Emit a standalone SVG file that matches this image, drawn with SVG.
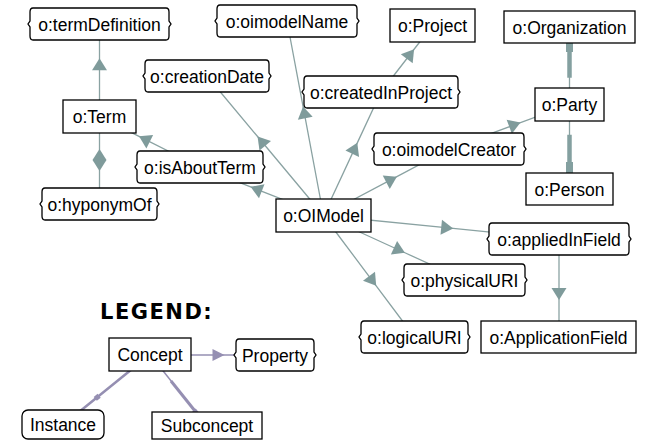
<svg xmlns="http://www.w3.org/2000/svg" width="648" height="441" viewBox="0 0 648 441">
<style>
.c{fill:#fff;stroke:#000;stroke-width:1.3}
.t{font-family:"Liberation Sans",Arial,sans-serif;font-size:17.5px;fill:#000;text-anchor:middle}
.ln{fill:none;stroke:#8aa2a2;stroke-width:1.3}
.sub{fill:none;stroke:#84a0a0}
.lg{fill:none;stroke:#958fb2}
</style>
<defs>
<marker id="arr" markerUnits="userSpaceOnUse" viewBox="-13 -8 14 16" markerWidth="14" markerHeight="16" refX="0" refY="0" orient="auto">
<path d="M0,0 L-12,-7.5 L-12,7.5 Z" fill="#7f9b9b"/>
</marker>
<marker id="dia" markerUnits="userSpaceOnUse" viewBox="-12 -8 24 16" markerWidth="24" markerHeight="16" refX="0" refY="0" orient="auto">
<path d="M-11,0 L0,-7 L11,0 L0,7 Z" fill="#7f9b9b"/>
</marker>
<marker id="larr" markerUnits="userSpaceOnUse" viewBox="-13 -8 14 16" markerWidth="14" markerHeight="16" refX="0" refY="0" orient="auto">
<path d="M0,0 L-12,-6 L-12,6 Z" fill="#958fb2"/>
</marker>
<marker id="sq" markerUnits="userSpaceOnUse" viewBox="-4 -4 8 8" markerWidth="8" markerHeight="8" refX="0" refY="0" orient="auto">
<rect x="-2.5" y="-2.5" width="5" height="5" fill="#958fb2"/>
</marker>
</defs>

<g id="connectors">
<path class="ln" marker-mid="url(#arr)" d="M99.5,116.5 L99.5,58.25 L99.5,24"/>
<path class="ln" marker-mid="url(#dia)" d="M99.5,204 L99.5,160 L99.5,116.5"/>
<path class="ln" marker-mid="url(#arr)" d="M200,167 L139.03,136.36 L99.5,116.5"/>
<path class="ln" marker-mid="url(#arr)" d="M323.5,215.5 L250.58,186.86 L200,167"/>
<path class="ln" marker-mid="url(#arr)" d="M323.5,215.5 L257.56,136.54 L207,76"/>
<path class="ln" marker-mid="url(#arr)" d="M323.5,215.5 L303.04,106.46 L287,21"/>
<path class="ln" marker-mid="url(#arr)" d="M323.5,215.5 L357.31,142.87 L381,92"/>
<path class="ln" marker-mid="url(#arr)" d="M381,92 L414.10,49.26 L432.5,25.5"/>
<path class="ln" marker-mid="url(#arr)" d="M323.5,215.5 L396.85,176.63 L449,149"/>
<path class="ln" marker-mid="url(#arr)" d="M449,149 L520.51,122.59 L569.5,104.5"/>
<path class="ln" marker-mid="url(#arr)" d="M323.5,215.5 L453.19,228.44 L559,239"/>
<path class="ln" marker-mid="url(#arr)" d="M323.5,215.5 L404.91,252.74 L464.5,280"/>
<path class="ln" marker-mid="url(#arr)" d="M323.5,215.5 L376.19,285.85 L414.5,337"/>
<path class="ln" marker-mid="url(#arr)" d="M559,239 L559,300 L559,337"/>
<path class="ln" d="M569.5,27 L569.5,104.5"/>
<path class="sub" stroke-width="4.5" d="M569.5,27 L569.5,77.75"/>
<path class="sub" stroke-width="7" d="M569.5,27 L569.5,52"/>
<path class="ln" d="M569.5,104.5 L569.5,189"/>
<path class="sub" stroke-width="4.5" d="M569.5,189 L569.5,134.75"/>
<path class="sub" stroke-width="7" d="M569.5,189 L569.5,162"/>
<path class="lg" stroke-width="1.5" marker-mid="url(#larr)" d="M150,355 L224.5,355 L275,355"/>
<path class="lg" stroke-width="2.5" marker-mid="url(#sq)" d="M150,354.5 L97.2,397.3 L63,425"/>
<path class="lg" stroke-width="1.5" d="M150,354.5 L207,426"/>
<path class="lg" stroke-width="3" d="M207,426 L171,381"/>
<path class="lg" stroke-width="4.5" d="M207,426 L194,410"/>
</g>

<g id="termDefinition"><path class="c" d="M33,8 H166 Q169,8 169,12 V21 L171,24 L169,27 V36 Q169,40 166,40 H33 Q30,40 30,36 V27 L28,24 L30,21 V12 Q30,8 33,8 Z"/><text class="t" x="99.5" y="30.5">o:termDefinition</text></g>
<g id="oimodelName"><path class="c" d="M220,5 H354 Q357,5 357,9 V18 L359,21 L357,24 V33 Q357,37 354,37 H220 Q217,37 217,33 V24 L215,21 L217,18 V9 Q217,5 220,5 Z"/><text class="t" x="287" y="27.5">o:oimodelName</text></g>
<g id="Project"><rect class="c" x="390" y="9" width="85" height="33"/><text class="t" x="432.5" y="32">o:Project</text></g>
<g id="Organization"><rect class="c" x="504" y="11" width="131" height="32"/><text class="t" x="569.5" y="33.5">o:Organization</text></g>
<g id="creationDate"><path class="c" d="M148,60 H266 Q269,60 269,64 V73 L271,76 L269,79 V88 Q269,92 266,92 H148 Q145,92 145,88 V79 L143,76 L145,73 V64 Q145,60 148,60 Z"/><text class="t" x="207" y="82.5">o:creationDate</text></g>
<g id="createdInProject"><path class="c" d="M307,76 H455 Q458,76 458,80 V89 L460,92 L458,95 V104 Q458,108 455,108 H307 Q304,108 304,104 V95 L302,92 L304,89 V80 Q304,76 307,76 Z"/><text class="t" x="381" y="98.5">o:createdInProject</text></g>
<g id="Term"><rect class="c" x="63" y="100" width="73" height="33"/><text class="t" x="99.5" y="123">o:Term</text></g>
<g id="Party"><rect class="c" x="535" y="88" width="69" height="33"/><text class="t" x="569.5" y="111">o:Party</text></g>
<g id="oimodelCreator"><path class="c" d="M377,133 H521 Q524,133 524,137 V146 L526,149 L524,152 V161 Q524,165 521,165 H377 Q374,165 374,161 V152 L372,149 L374,146 V137 Q374,133 377,133 Z"/><text class="t" x="449" y="155.5">o:oimodelCreator</text></g>
<g id="isAboutTerm"><path class="c" d="M140,151 H260 Q263,151 263,155 V164 L265,167 L263,170 V179 Q263,183 260,183 H140 Q137,183 137,179 V170 L135,167 L137,164 V155 Q137,151 140,151 Z"/><text class="t" x="200" y="173.5">o:isAboutTerm</text></g>
<g id="Person"><rect class="c" x="526" y="173" width="87" height="32"/><text class="t" x="569.5" y="195.5">o:Person</text></g>
<g id="hyponymOf"><path class="c" d="M45,188 H154 Q157,188 157,192 V201 L159,204 L157,207 V216 Q157,220 154,220 H45 Q42,220 42,216 V207 L40,204 L42,201 V192 Q42,188 45,188 Z"/><text class="t" x="99.5" y="210.5">o:hyponymOf</text></g>
<g id="OIModel"><rect class="c" x="276" y="199" width="95" height="33"/><text class="t" x="323.5" y="222">o:OIModel</text></g>
<g id="appliedInField"><path class="c" d="M492,223 H626 Q629,223 629,227 V236 L631,239 L629,242 V251 Q629,255 626,255 H492 Q489,255 489,251 V242 L487,239 L489,236 V227 Q489,223 492,223 Z"/><text class="t" x="559" y="245.5">o:appliedInField</text></g>
<g id="physicalURI"><path class="c" d="M407,264 H522 Q525,264 525,268 V277 L527,280 L525,283 V292 Q525,296 522,296 H407 Q404,296 404,292 V283 L402,280 L404,277 V268 Q404,264 407,264 Z"/><text class="t" x="464.5" y="286.5">o:physicalURI</text></g>
<g id="logicalURI"><path class="c" d="M364,321 H465 Q468,321 468,325 V334 L470,337 L468,340 V349 Q468,353 465,353 H364 Q361,353 361,349 V340 L359,337 L361,334 V325 Q361,321 364,321 Z"/><text class="t" x="414.5" y="343.5">o:logicalURI</text></g>
<g id="ApplicationField"><rect class="c" x="481" y="321" width="155" height="32"/><text class="t" x="558.5" y="343.5">o:ApplicationField</text></g>

<g id="legend-title"><text x="100" y="319" font-family="'DejaVu Sans',sans-serif" font-weight="bold" font-size="21" letter-spacing="1.5" fill="#000">LEGEND:</text></g>
<g id="Concept"><rect class="c" x="109" y="338" width="82" height="33"/><text class="t" x="150" y="361">Concept</text></g>
<g id="Property"><path class="c" d="M239,339 H311 Q314,339 314,343 V352 L316,355 L314,358 V367 Q314,371 311,371 H239 Q236,371 236,367 V358 L234,355 L236,352 V343 Q236,339 239,339 Z"/><text class="t" x="275" y="361.5">Property</text></g>
<g id="Instance"><rect class="c" x="22" y="410" width="82" height="29" rx="6"/><text class="t" x="63" y="431">Instance</text></g>
<g id="Subconcept"><rect class="c" x="152" y="412" width="110" height="27"/><text class="t" x="207" y="432">Subconcept</text></g>
</svg>
